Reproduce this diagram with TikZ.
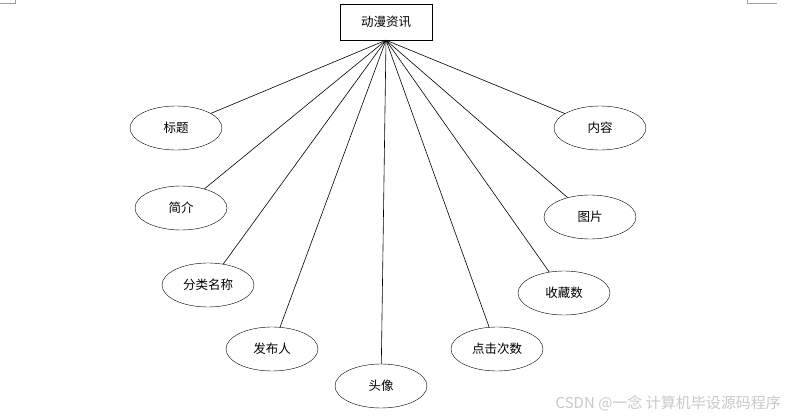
\documentclass[tikz,border=0pt]{standalone}
\usepackage{fontspec}
\newfontfamily\cjk{Noto Sans CJK SC}
\usetikzlibrary{positioning,shapes.geometric}
\definecolor{MarkGray}{RGB}{160,160,160}
\definecolor{WaterGray}{RGB}{200,200,200}

\begin{document}
\begin{tikzpicture}[x=1pt,y=-1pt,
  entity/.style={draw,rectangle,minimum width=92pt,minimum height=36pt,inner sep=0pt,font=\cjk\fontsize{12.5}{14}\selectfont},
  attr/.style={draw,ellipse,minimum width=92pt,minimum height=44pt,inner sep=0pt,font=\cjk\fontsize{12.5}{14}\selectfont},
  link/.style={draw,line width=0.6pt}]
  \useasboundingbox (0,0) rectangle (785,417);
  % page corner marks
  \draw[MarkGray,line width=0.6pt] (0,3) -- (15,3) -- (15,0);
  \draw[MarkGray,line width=0.6pt] (777,3) -- (747,3) -- (747,0);
  % entity
  \node[entity] (news) at (386,22) {动漫资讯};
  \coordinate (hub) at (news.south);
  % attributes
  \node[attr] (biaoti) at (176,128) {标题};
  \node[attr] (jianjie) at (181,208) {简介};
  \node[attr] (fenlei) at (208,285) {分类名称};
  \node[attr] (faburen) at (272,349) {发布人};
  \node[attr] (touxiang) at (381,386) {头像};
  \node[attr] (dianji) at (497,349) {点击次数};
  \node[attr] (shoucang) at (564,293) {收藏数};
  \node[attr] (tupian) at (590,217) {图片};
  \node[attr] (neirong) at (600,128) {内容};
  \foreach \a in {biaoti,jianjie,fenlei,faburen,touxiang,dianji,shoucang,tupian,neirong}
    \draw[link] (hub) -- (\a);
  % watermark
  \node[anchor=east,text=WaterGray,inner sep=0pt,font=\cjk\fontsize{15}{17}\selectfont] (mark) at (781,403) {CSDN @一念 计算机毕设源码程序};
\end{tikzpicture}
\end{document}
